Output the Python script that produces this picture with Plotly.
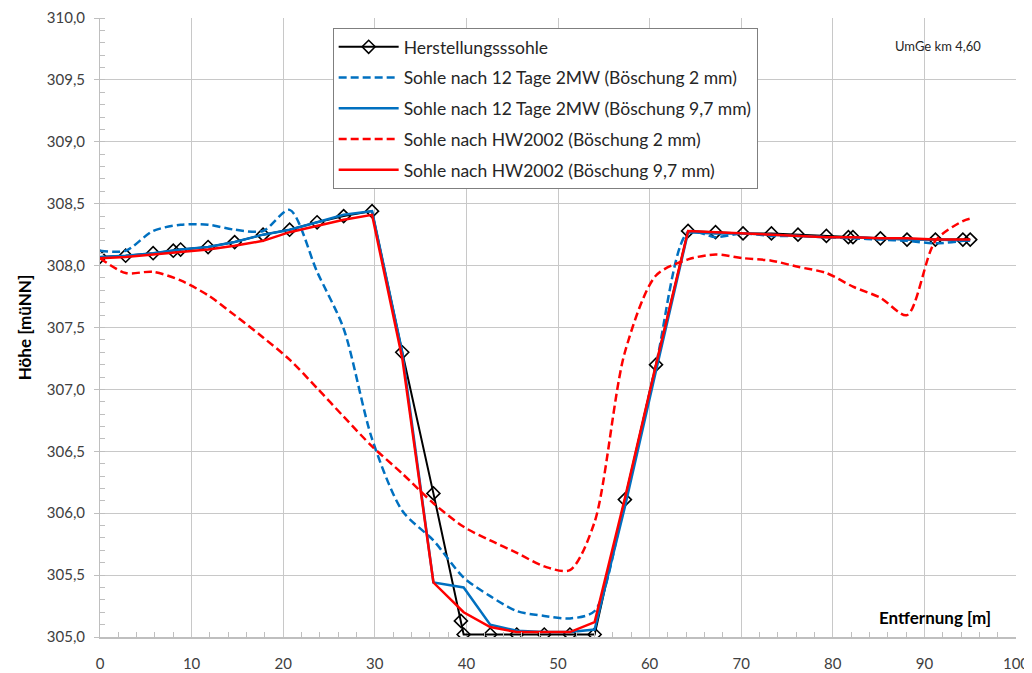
import plotly.graph_objects as go

# Stations [m]
x_base = [0, 2.8, 5.8, 8.0, 8.8, 11.8, 14.7, 17.8, 20.7, 23.7, 26.6, 29.7, 33.0, 36.4,
          39.4, 39.7, 42.6, 45.5, 48.5, 51.3, 54.0, 57.3, 60.7, 64.2, 67.2, 70.2, 73.3,
          76.2, 79.3, 81.7, 82.2, 85.2, 88.1, 91.2, 94.2, 95.0]
y_herst = [308.07, 308.08, 308.10, 308.12, 308.13, 308.15, 308.19, 308.25, 308.29, 308.35,
           308.40, 308.44, 307.30, 306.16, 305.13, 305.02, 305.02, 305.02, 305.02, 305.02,
           305.02, 306.11, 307.20, 308.28, 308.27, 308.26, 308.26, 308.25, 308.24, 308.23,
           308.23, 308.22, 308.21, 308.21, 308.21, 308.21]

x_st = [0, 2.8, 5.8, 8.8, 11.8, 14.7, 17.8, 20.7, 23.7, 26.6, 29.7, 33.0, 36.4, 39.7,
        42.6, 45.5, 48.5, 51.3, 54.0, 57.3, 60.7, 64.2, 67.2, 70.2, 73.3, 76.2, 79.3,
        82.2, 85.2, 88.1, 91.2, 94.2, 95.0]

y_2mw_2mm = [308.12, 308.12, 308.28, 308.33, 308.33, 308.29, 308.28, 308.45, 307.95, 307.49,
             306.60, 306.02, 305.78, 305.48, 305.33, 305.21, 305.17, 305.15, 305.21, 306.10,
             307.20, 308.27, 308.23, 308.26, 308.24, 308.24, 308.23, 308.22, 308.21, 308.20,
             308.18, 308.20, 308.21]

y_2mw_97mm = [308.07, 308.08, 308.10, 308.13, 308.15, 308.19, 308.25, 308.29, 308.35, 308.41,
              308.44, 307.30, 305.44, 305.40, 305.10, 305.05, 305.04, 305.04, 305.06, 306.05,
              307.15, 308.27, 308.26, 308.26, 308.25, 308.24, 308.23, 308.23, 308.22, 308.21,
              308.21, 308.20, 308.20]

y_hw_2mm = [308.06, 307.94, 307.95, 307.88, 307.76, 307.60, 307.42, 307.24, 307.01, 306.78,
            306.54, 306.32, 306.08, 305.89, 305.78, 305.68, 305.57, 305.54, 305.93, 307.30,
            307.92, 308.05, 308.09, 308.06, 308.04, 307.99, 307.94, 307.83, 307.74, 307.60,
            308.20, 308.36, 308.38]

y_hw_97mm = [308.06, 308.07, 308.09, 308.11, 308.13, 308.16, 308.20, 308.27, 308.32, 308.37,
             308.41, 307.25, 305.44, 305.20, 305.08, 305.04, 305.04, 305.04, 305.12, 306.12,
             307.20, 308.28, 308.27, 308.26, 308.25, 308.24, 308.23, 308.23, 308.22, 308.22,
             308.21, 308.21, 308.21]

names = ["Herstellungsssohle",
         "Sohle nach 12 Tage 2MW (Böschung 2 mm)",
         "Sohle nach 12 Tage 2MW (Böschung 9,7 mm)",
         "Sohle nach HW2002 (Böschung 2 mm)",
         "Sohle nach HW2002 (Böschung 9,7 mm)"]

BLUE = "#0070C0"
RED = "#FF0000"
FONT = "Lato"
DASH = "8px,4px"

fig = go.Figure()
fig.add_trace(go.Scatter(x=x_base, y=y_herst, name=names[0], mode="lines+markers",
                         line=dict(color="black", width=2),
                         marker=dict(symbol="diamond-open", size=10, color="black",
                                     line=dict(width=1.6, color="black")),
                         legendgroup="a"))
fig.add_trace(go.Scatter(x=x_st, y=y_2mw_2mm, name=names[1], mode="lines",
                         line=dict(color=BLUE, width=2.5, dash=DASH, shape="spline", smoothing=0.8),
                         legendgroup="b"))
fig.add_trace(go.Scatter(x=x_st, y=y_2mw_97mm, name=names[2], mode="lines",
                         line=dict(color=BLUE, width=2.5),
                         legendgroup="c"))
fig.add_trace(go.Scatter(x=x_st, y=y_hw_2mm, name=names[3], mode="lines",
                         line=dict(color=RED, width=2.5, dash=DASH, shape="spline", smoothing=0.8),
                         legendgroup="d"))
fig.add_trace(go.Scatter(x=x_st, y=y_hw_97mm, name=names[4], mode="lines",
                         line=dict(color=RED, width=2.5),
                         legendgroup="e"))

fig.update_layout(
    width=1024, height=665,
    margin=dict(l=92, r=16, t=10, b=36),
    paper_bgcolor="white", plot_bgcolor="white",
    separators=",.",
    font=dict(family=FONT, size=15, color="#404040"),
    showlegend=True,
    legend=dict(x=0.254, y=0.984, xanchor="left", yanchor="top",
                bgcolor="white", bordercolor="#7f7f7f", borderwidth=1,
                font=dict(family=FONT, size=17.5, color="#262626"),
                tracegroupgap=5, itemwidth=60),
    xaxis=dict(range=[0, 100], dtick=10, tick0=0, showgrid=True, gridcolor="#c8c8c8",
               gridwidth=1, zeroline=False, showline=True, linecolor="#bfbfbf", linewidth=2,
               ticks="", ticklabelstandoff=12, automargin=False,
               tickfont=dict(family=FONT, size=15, color="#404040"),
               minor=dict(dtick=2, ticks="inside", ticklen=5, tickcolor="#bfbfbf", showgrid=False)),
    yaxis=dict(range=[305, 310], dtick=0.5, tick0=305, tickformat=".1f", showgrid=True,
               gridcolor="#c8c8c8", gridwidth=1, zeroline=False, showline=True,
               linecolor="#bfbfbf", linewidth=1, ticks="outside", ticklen=5, tickcolor="#bfbfbf",
               ticklabelstandoff=6, automargin=False,
               tickfont=dict(family=FONT, size=15, color="#404040"),
               title=dict(text="<b>Höhe [müNN]</b>", standoff=10,
                          font=dict(family=FONT, size=17, color="black")),
               minor=dict(dtick=0.1, ticks="inside", ticklen=5, tickcolor="#bfbfbf", showgrid=False)),
    annotations=[
        dict(text="<b>Entfernung [m]</b>", xref="paper", yref="paper", x=0.975, y=0.031,
             xanchor="right", yanchor="middle", showarrow=False,
             font=dict(family=FONT, size=17, color="black")),
        dict(text="UmGe km 4,60", xref="paper", yref="paper", x=0.964, y=0.955,
             xanchor="right", yanchor="middle", showarrow=False,
             font=dict(family=FONT, size=13, color="#262626")),
    ],
)

fig.write_html("out.html")
